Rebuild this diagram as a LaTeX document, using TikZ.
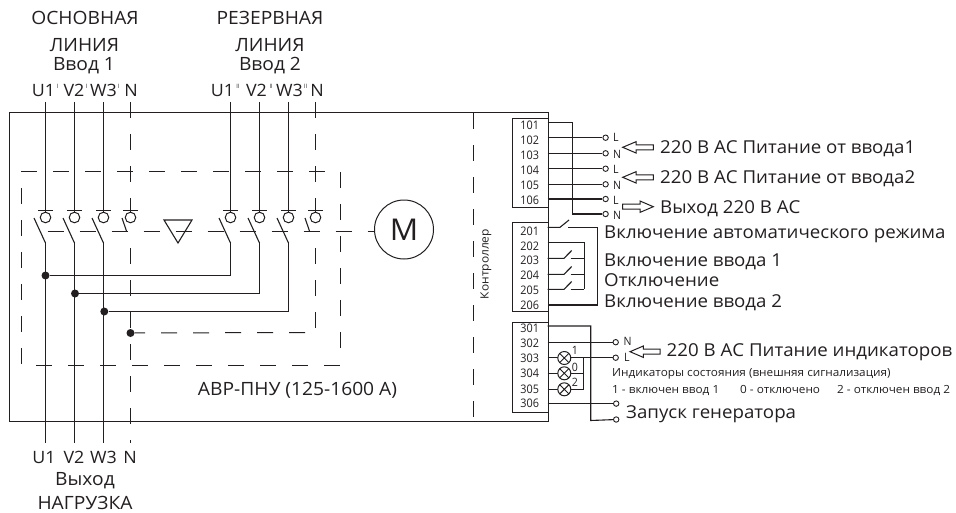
\documentclass[tikz,border=0pt]{standalone}
\usetikzlibrary{calc}
\usepackage{fontspec}
\setmainfont[FakeStretch=1.05]{Open Sans}
\newfontfamily\nar[FakeStretch=0.92]{Open Sans}
\definecolor{ink}{HTML}{231F20}
\tikzset{
  wire/.style={draw=ink,line width=1.1pt},
  dashline/.style={draw=ink,line width=1pt,dash pattern=on 16pt off 16pt},
  term/.style={circle,draw=ink,line width=0.9pt,fill=white,minimum size=5.4pt,inner sep=0pt},
  contact/.style={circle,draw=ink,line width=1pt,fill=white,minimum size=10.6pt,inner sep=0pt},
  lamp/.style={circle,draw=ink,line width=1pt,fill=white,minimum size=13pt,inner sep=0pt,path picture={\draw[ink,line width=0.9pt] ($(path picture bounding box.center)+(-4.6,-4.6)$)--($(path picture bounding box.center)+(4.6,4.6)$) ($(path picture bounding box.center)+(4.6,-4.6)$)--($(path picture bounding box.center)+(-4.6,4.6)$);}},
  junction/.style={circle,fill=ink,minimum size=8pt,inner sep=0pt},
  tbox/.style={draw=ink,line width=1pt,inner sep=0pt,minimum width=36pt,anchor=north west},
  bigw/.style={text=ink,inner sep=0pt,anchor=base west,font=\fontsize{17.8}{18}\selectfont},
  bigm/.style={text=ink,inner sep=0pt,anchor=base,font=\fontsize{18.3}{18}\selectfont},
  pole/.style={text=ink,inner sep=0pt,anchor=base,font=\fontsize{17}{18}\selectfont},
  num/.style={text=ink,inner sep=0pt,anchor=base,font=\nar\fontsize{11.8}{12}\selectfont},
  tiny/.style={text=ink,inner sep=0pt,anchor=base west,font=\nar\fontsize{11.5}{12}\selectfont},
  note/.style={text=ink,inner sep=0pt,anchor=base west,font=\fontsize{11.2}{12}\selectfont},
  supmark/.style={text=ink,inner sep=0pt,anchor=base,font=\nar\fontsize{6}{7}\selectfont},
  hollow/.style={draw=ink,line width=1pt,fill=white,line join=miter}
}
\begin{document}
\begin{tikzpicture}[x=1pt,y=-1pt]
\useasboundingbox (0,0) rectangle (956,512);
% outer frame
\node[draw=ink,line width=1pt,inner sep=0pt,minimum width=539pt,minimum height=309pt,anchor=north west] (frame) at (8.5,112) {};
% dashed enclosure
\coordinate (dTL) at (21,171.5); \coordinate (dTR) at (325,171.5);
\coordinate (dLa) at (21.5,188); \coordinate (dLb) at (21.5,364);
\coordinate (dBL) at (36,365); \coordinate (dBR) at (340,365);
\coordinate (dRa) at (340,172); \coordinate (dRb) at (340,350);
\draw[dashline] (dTL)--(dTR);
\draw[dashline] (dLa)--(dLb);
\draw[dashline] (dBL)--(dBR);
\draw[dashline] (dRa)--(dRb);
% controller divider
\coordinate (ctlT) at (473,113); \coordinate (ctlB) at (473,421);
\draw[dashline] (ctlT)--(ctlB);
% motor
\node[circle,draw=ink,line width=1pt,minimum size=59pt,inner sep=0pt,text=ink,font=\fontsize{30}{30}\selectfont] (motor) at (404,229.5) {M};
\coordinate (chainL) at (47.7,231.5);
\draw[dashline] (chainL)--(374.5,231.5);
% interlock triangle
\draw[wire,line join=miter] (164,220)--(192,220)--(178,243)--cycle;
% poles
\foreach \n/\x in {a/45.5,b/74.5,c/103.5,e/230.5,f/259.5,g/288.5}{
  \coordinate (top\n) at (\x,102);
  \coordinate (bar\n) at (\x,210.5);
  \coordinate (piv\n) at (\x,243);
  \coordinate (bla\n) at (\x-11.5,218);
  \draw[wire] (top\n)--(bar\n);
  \draw[wire] ($(bar\n)+(-7.5,0)$)--($(bar\n)+(7.5,0)$);
  \draw[wire] (bla\n)--(piv\n);
}
\foreach \n/\x/\bx in {d/130.5/122,h/315.5/305}{
  \coordinate (top\n) at (\x,102);
  \coordinate (bar\n) at (\x,210.5);
  \draw[dashline] (top\n)--(bar\n);
  \draw[wire] ($(bar\n)+(-7.5,0)$)--($(bar\n)+(7.5,0)$);
  \draw[wire] (\bx,218)--(\bx+4.5,231);
}
\foreach \n/\x in {a/45.5,b/74.5,c/103.5,d/130.5,e/230.5,f/259.5,g/288.5,h/315.5}{
  \node[contact] (cont\n) at (\x,217.5) {};
  \draw[wire] (bar\n)--(cont\n);
}
% outputs
\coordinate (oa) at (45.5,443); \coordinate (ob) at (74.5,443); \coordinate (oc) at (103.5,443);
\coordinate (od) at (130.5,443); \coordinate (nd) at (130.5,248); \coordinate (ne) at (315.5,248); \coordinate (nf) at (315.5,328);
\draw[wire] (piva)--(oa);
\draw[wire] (pivb)--(ob);
\draw[wire] (pivc)--(oc);
\draw[dashline] (nd)--(od);
\draw[dashline] (ne)--(nf);
\node[junction] (ja) at (45.5,275.5) {};
\node[junction] (jb) at (75,293.5) {};
\node[junction] (jc) at (104.3,311.5) {};
\node[junction] (jd) at (130.5,333) {};
\draw[wire] (ja)-|(pive);
\draw[wire] (jb)-|(pivf);
\draw[wire] (jc)-|(pivg);
\coordinate (ndr) at (305,332.5);
\draw[dashline,dash phase=5.5pt] (jd)--(ndr);
% labels
\node[bigm] (t1) at (85,24.5) {ОСНОВНАЯ};
\node[bigm] (t2) at (84.5,51.5) {ЛИНИЯ};
\node[bigm] (t3) at (84,70.7) {Ввод 1};
\node[bigm] (t4) at (270,24.5) {РЕЗЕРВНАЯ};
\node[bigm] (t5) at (270,51.5) {ЛИНИЯ};
\node[bigm] (t6) at (270,70.7) {Ввод 2};
\foreach \n/\x/\s in {a/43.5/U1,b/74/V2,c/103.5/W3,d/131/N,e/222.5/U1,f/256.5/V2,g/289.5/W3,h/317/N}{
  \node[pole] (lab\n) at (\x,96.5) {\s};
}
\foreach \n/\x/\s in {a/57.5/I,b/87/I,c/119/I,e/238/II,f/271.2/II,g/305.6/II}{
  \node[supmark] (sm\n) at (\x,88) {\s};
}
\foreach \n/\x/\s in {m/44/U1,n/74/V2,o/103.5/W3,p/130/N}{
  \node[pole] (lab\n) at (\x,463) {\s};
}
\node[bigm] (out1) at (85,485) {Выход};
\node[bigm] (out2) at (85,509.4) {НАГРУЗКА};
\node[bigm] (prod) at (297.5,395) {АВР-ПНУ (125-1600 А)};
\node[text=ink,inner sep=0pt,rotate=90,font=\fontsize{11.4}{12}\selectfont] (ctl) at (486,264) {Контроллер};
% terminal boxes
\node[tbox,minimum height=89.6pt] (box1) at (511.7,117.7) {};
\node[tbox,minimum height=89.3pt] (box2) at (511.7,221.7) {};
\node[tbox,minimum height=89.4pt] (box3) at (511.7,322.3) {};
\foreach \s/\y in {101/129.3,102/144.8,103/159.8,104/174.8,105/189.8,106/204.5,201/235.2,202/250.2,203/264.5,204/279.5,205/294.5,206/309.5,301/332.5,302/347.2,303/362.8,304/377.8,305/393.5,306/407.8}{
  \node[num] (n\s) at (529.7,\y) {\s};
}
% block 1
\def\rx{547.7}
\foreach \n/\y/\ll/\ly in {102/137.7/L/141.7,103/153.3/N/158.3,104/168.7/L/173,105/184.3/N/189,106/199/L/204,101/214/N/219}{
  \node[term] (p\n) at (605.6,\y) {};
  \node[tiny] (pl\n) at (612.8,\ly) {\ll};
}
\foreach \n/\y in {102/137.7,103/153.3,104/168.7,105/184.3,106/199}{
  \coordinate (s\n) at (\rx,\y);
  \draw[wire] (s\n)--(p\n);
}
\coordinate (s101) at (\rx,122.7);
\draw[wire] (s101)-|(572.3,214)--(p101);
% hollow arrows
\draw[hollow] (622.7,147.3)--(636,141.7)--(636,144.8)--(653.3,144.8)--(653.3,149.8)--(636,149.8)--(636,153)--cycle;
\draw[hollow] (622.7,177.3)--(636,171.7)--(636,174.8)--(653.3,174.8)--(653.3,179.8)--(636,179.8)--(636,183)--cycle;
\draw[hollow] (653.3,206.7)--(640,201)--(640,204.2)--(622.7,204.2)--(622.7,209.2)--(640,209.2)--(640,212.4)--cycle;
\draw[hollow] (630,351.7)--(643.3,346)--(643.3,349.2)--(660,349.2)--(660,354.2)--(643.3,354.2)--(643.3,357.4)--cycle;
\node[bigw] (x1) at (660,153.3) {220 В АС Питание от ввода1};
\node[bigw] (x2) at (660,183.3) {220 В АС Питание от ввода2};
\node[bigw] (x3) at (660,213) {Выход 220 В АС};
% block 2
\coordinate (s201) at (\rx,227.3); \coordinate (s206) at (\rx,305);
\draw[wire] (s201)--(560,227.3)--(569,220);
\draw[wire] (568.3,227.3)-|(597.3,305)--(s206);
\coordinate (s202) at (\rx,242.7);
\draw[wire] (s202)-|(584.3,289.3);
\foreach \n/\y in {203/258.3,204/274.3,205/289.3}{
  \coordinate (s\n) at (\rx,\y);
  \draw[wire] (s\n)--(564,\y)--(571.7,\y-7.8);
  \draw[wire] (570.7,\y)--(584.3,\y);
}
\node[bigw] (y1) at (604,238.5) {Включение автоматического режима};
\node[bigw] (y2) at (604,266.7) {Включение ввода 1};
\node[bigw] (y3) at (604,286) {Отключение};
\node[bigw] (y4) at (604,307) {Включение ввода 2};
% block 3
\node[term] (q301) at (616.2,419.5) {};
\node[term] (q302) at (615.7,342.2) {};
\node[term] (q303) at (615.7,357.7) {};
\node[term] (q306) at (616.2,403.6) {};
\coordinate (s301) at (\rx,326); \coordinate (s302) at (\rx,342.2); \coordinate (s303) at (\rx,357.7);
\coordinate (s304) at (\rx,373.3); \coordinate (s305) at (\rx,389.3); \coordinate (s306) at (\rx,403.6);
\draw[wire] (s301)-|(590.7,420.5)--(q301);
\draw[wire] (s302)--(q302);
\draw[wire] (s303)--(q303);
\draw[wire] (s306)--(q306);
\draw[wire] (583.7,357.7)--(583.7,389.3);
\draw[wire] (s304)--(583.7,373.3);
\draw[wire] (s305)--(583.7,389.3);
\node[lamp] (l1) at (564.3,358) {};
\node[lamp] (l2) at (564.3,373.3) {};
\node[lamp] (l3) at (564.3,389.3) {};
\node[tiny,anchor=base] (lm1) at (575,354) {1};
\node[tiny,anchor=base] (lm2) at (575,371) {0};
\node[tiny,anchor=base] (lm3) at (575,386) {2};
\node[tiny] (qn) at (623.3,345.7) {N};
\node[tiny] (ql) at (624,361.7) {L};
\node[bigw] (z1) at (666.5,356.7) {220 В АС Питание индикаторов};
\node[note] (z2) at (612,376.5) {Индикаторы состояния (внешняя сигнализация)};
\node[note] (z3) at (612,393) {1 - включен ввод 1};
\node[note] (z4) at (740,393) {0 - отключено};
\node[note] (z5) at (837,393) {2 - отключен ввод 2};
\node[bigw] (z6) at (626,418) {Запуск генератора};
\end{tikzpicture}
\end{document}
